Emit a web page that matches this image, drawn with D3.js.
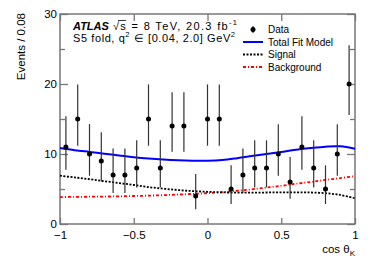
<!DOCTYPE html>
<html><head><meta charset="utf-8">
<script src="https://cdn.jsdelivr.net/npm/d3@7"></script>
<style>
html,body{margin:0;padding:0;background:#fff;}
svg{display:block;font-family:"Liberation Sans",Arial,Helvetica,sans-serif;}
</style></head>
<body><svg id="c" width="374" height="268"></svg>
<script>
// ---- data ----
const binCenters = [-0.96,-0.88,-0.80,-0.72,-0.64,-0.56,-0.48,-0.40,-0.32,-0.24,-0.16,-0.08,0.00,0.08,0.16,0.24,0.32,0.40,0.48,0.56,0.64,0.72,0.80,0.88,0.96];
const counts     = [11,15,10,9,7,7,8,15,8,14,14,4,15,15,5,7,8,8,10,6,11,8,5,10,20];
// asymmetric (Poisson) error bars
const errLow  = [3.26,3.82,3.11,2.94,2.58,2.58,2.77,3.82,2.77,3.69,3.69,1.91,3.82,3.82,2.16,2.58,2.77,2.77,3.11,2.38,3.26,2.77,2.16,3.11,4.42];
const errHigh = [4.40,4.94,4.26,4.11,3.77,3.77,3.95,4.94,3.95,4.81,4.81,3.16,4.94,4.94,3.38,3.77,3.95,3.95,4.26,3.58,4.40,3.95,3.38,4.26,5.53];

const curveX     = [-1,-0.9,-0.8,-0.7,-0.6,-0.5,-0.4,-0.3,-0.2,-0.1,0,0.1,0.2,0.3,0.4,0.5,0.6,0.7,0.8,0.9,1];
const totalFit   = [10.85,10.55,10.3,10.05,9.8,9.55,9.35,9.2,9.1,9.05,9.05,9.15,9.4,9.7,10.0,10.3,10.6,10.85,11.05,11.1,10.75];
const signal     = [6.9,6.65,6.4,6.12,5.85,5.57,5.27,5.05,4.85,4.7,4.6,4.52,4.48,4.48,4.5,4.52,4.52,4.5,4.4,4.15,3.67];
const background = [3.85,3.87,3.9,3.92,3.95,4.0,4.05,4.12,4.2,4.3,4.4,4.55,4.75,4.95,5.2,5.45,5.75,6.0,6.3,6.55,6.85];

const xTicks = [-1,-0.5,0,0.5,1];
const yTicks = [0,10,20,30];
const yMinorTicks = [5,15,25];
const legendLabels = ["Data","Total Fit Model","Signal","Background"];

// ---- layout ----
const svg = d3.select("#c");
const L=60, R=355, T=14, B=224;
const x = d3.scaleLinear().domain([-1,1]).range([L,R]);
const y = d3.scaleLinear().domain([0,30]).range([B,T]);
const axisCol = "#777";
const fmt = v => (v<0?"\u2212":"") + Math.abs(v);

// axes
const gB = svg.append("g").attr("transform",`translate(0,${B})`)
  .call(d3.axisBottom(x).tickValues(xTicks).tickSize(-6).tickPadding(7).tickFormat(fmt));
const gT = svg.append("g").attr("transform",`translate(0,${T})`)
  .call(d3.axisTop(x).tickValues(xTicks).tickSize(-7).tickFormat(""));
const gL = svg.append("g").attr("transform",`translate(${L},0)`)
  .call(d3.axisLeft(y).tickValues(yTicks).tickSize(-8).tickPadding(3).tickFormat(d3.format("d")));
const gLm = svg.append("g").attr("transform",`translate(${L},0)`)
  .call(d3.axisLeft(y).tickValues(yMinorTicks).tickSize(-5).tickFormat(""));
const gR = svg.append("g").attr("transform",`translate(${R},0)`)
  .call(d3.axisRight(y).tickValues(yTicks).tickSize(-8).tickFormat(""));
const gRm = svg.append("g").attr("transform",`translate(${R},0)`)
  .call(d3.axisRight(y).tickValues(yMinorTicks).tickSize(-5).tickFormat(""));
[gB,gT,gL,gLm,gR,gRm].forEach(g=>{
  g.select(".domain").remove();
  g.selectAll("line").attr("stroke",axisCol).attr("stroke-width",1.3);
  g.selectAll("text").attr("fill","#000").attr("font-size",11.5)
   .attr("font-family","Liberation Sans, Arial, sans-serif");
});
gB.selectAll("text").attr("dy","0.71em");
svg.append("rect").attr("x",L).attr("y",T).attr("width",R-L).attr("height",B-T)
  .attr("fill","none").attr("stroke",axisCol).attr("stroke-width",1.5);

// curves
const line = d3.line().curve(d3.curveCatmullRom.alpha(0.5));
const pts = arr => curveX.map((c,i)=>[x(c), y(arr[i])]);
svg.append("path").attr("d",line(pts(background))).attr("fill","none")
  .attr("stroke","#ff0000").attr("stroke-width",1.8).attr("stroke-dasharray","3,2,1,2");
svg.append("path").attr("d",line(pts(signal))).attr("fill","none")
  .attr("stroke","#000").attr("stroke-width",1.8).attr("stroke-dasharray","2,1.5");
svg.append("path").attr("d",line(pts(totalFit))).attr("fill","none")
  .attr("stroke","#0000ff").attr("stroke-width",2);

// data points
const gd = svg.append("g");
gd.selectAll("line.eb").data(counts).join("line").attr("class","eb")
  .attr("x1",(d,i)=>x(binCenters[i])).attr("x2",(d,i)=>x(binCenters[i]))
  .attr("y1",(d,i)=>y(d-errLow[i])).attr("y2",(d,i)=>y(d+errHigh[i]))
  .attr("stroke","#333").attr("stroke-width",1.2);
gd.selectAll("circle").data(counts).join("circle")
  .attr("cx",(d,i)=>x(binCenters[i])).attr("cy",d=>y(d)).attr("r",2.5).attr("fill","#000");

// axis titles
svg.append("text").attr("transform","translate(25,13) rotate(-90)")
  .attr("text-anchor","end").attr("font-size",11.5).text("Events / 0.08");
const xt = svg.append("text").attr("x",355).attr("y",253).attr("text-anchor","end").attr("font-size",11.5);
xt.append("tspan").text("cos \u03b8");
xt.append("tspan").attr("font-size",8).attr("dy",3).text("K");

// header
svg.append("text").attr("x",73).attr("y",29.5).attr("font-size",11)
  .attr("font-weight","bold").attr("font-style","italic").text("ATLAS");
const h1 = svg.append("text").attr("x",113).attr("y",29.5).attr("font-size",11)
  .attr("textLength",124).attr("lengthAdjust","spacing");
h1.append("tspan").text("\u221As = 8 TeV, 20.3 fb");
h1.append("tspan").attr("font-size",7.5).attr("dy",-5).text("-1");
// overline of the square root
try {
  const n = h1.node();
  const e0 = n.getExtentOfChar(0), e1 = n.getExtentOfChar(1);
  svg.append("line").attr("x1",e0.x+e0.width-1).attr("x2",e1.x+e1.width)
    .attr("y1",20.5).attr("y2",20.5).attr("stroke","#000").attr("stroke-width",0.8);
} catch(err) {}
const h2 = svg.append("text").attr("x",73).attr("y",41.7).attr("font-size",11)
  .attr("textLength",162).attr("lengthAdjust","spacing");
h2.append("tspan").text("S5 fold, q");
h2.append("tspan").attr("font-size",7.5).attr("dy",-5).text("2");
h2.append("tspan").attr("dy",5).text(" \u2208 [0.04, 2.0] GeV");
h2.append("tspan").attr("font-size",7.5).attr("dy",-5).text("2");

// legend
const lg = svg.append("g");
const lx0=243, lx1=263, tx=268;
const rows=[29.5,42,54.5,67];
lg.append("line").attr("x1",(lx0+lx1)/2).attr("x2",(lx0+lx1)/2).attr("y1",rows[0]-3.5).attr("y2",rows[0]+3.5).attr("stroke","#333").attr("stroke-width",1.2);
lg.append("circle").attr("cx",(lx0+lx1)/2).attr("cy",rows[0]).attr("r",2.5);
lg.append("line").attr("x1",lx0).attr("x2",lx1).attr("y1",rows[1]).attr("y2",rows[1]).attr("stroke","#0000ff").attr("stroke-width",2);
lg.append("line").attr("x1",lx0).attr("x2",lx1).attr("y1",rows[2]).attr("y2",rows[2]).attr("stroke","#000").attr("stroke-width",1.8).attr("stroke-dasharray","2,1.5");
lg.append("line").attr("x1",lx0).attr("x2",lx1).attr("y1",rows[3]).attr("y2",rows[3]).attr("stroke","#ff0000").attr("stroke-width",1.8).attr("stroke-dasharray","3,2,1,2");
legendLabels.forEach((t,i)=>{
  lg.append("text").attr("x",tx).attr("y",rows[i]).attr("dy","0.36em").attr("font-size",10).text(t);
});
</script></body></html>
